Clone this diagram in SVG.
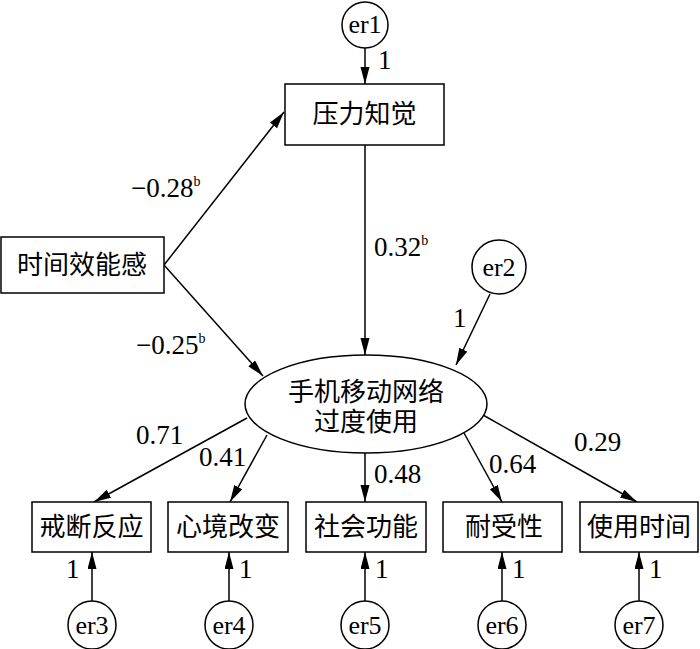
<svg xmlns="http://www.w3.org/2000/svg" width="700" height="649" viewBox="0 0 700 649">
<defs>
<style>
.box{fill:#fff;stroke:#000;stroke-width:1.5}
.ln{stroke:#000;stroke-width:1.5;fill:none;marker-end:url(#ah)}
.cn{font-family:"Noto Sans CJK SC","Noto Sans",sans-serif;font-size:26px;fill:#000;text-anchor:middle}
.nm{font-family:"Liberation Serif",serif;font-size:27px;fill:#000}
.er{font-family:"Liberation Serif",serif;font-size:26px;fill:#000;text-anchor:middle}
.sup{font-size:14px}
</style>
<marker id="ah" markerUnits="userSpaceOnUse" markerWidth="18" markerHeight="10" refX="17" refY="4.5" orient="auto">
<path d="M0,0 L17,4.5 L0,9 z" fill="#000"/>
</marker>
</defs>
<rect width="700" height="649" fill="#fff"/>
<g id="connectors">
<line class="ln" x1="365" y1="48" x2="365" y2="84"/>
<line class="ln" x1="164" y1="265" x2="284" y2="112"/>
<line class="ln" x1="164" y1="265" x2="263" y2="376"/>
<line class="ln" x1="365" y1="145" x2="365" y2="355"/>
<line class="ln" x1="490" y1="294" x2="456" y2="365"/>
<line class="ln" x1="247" y1="418" x2="94" y2="502"/>
<line class="ln" x1="267" y1="435" x2="230" y2="502"/>
<line class="ln" x1="365" y1="453" x2="365" y2="502"/>
<line class="ln" x1="464" y1="433" x2="502" y2="502"/>
<line class="ln" x1="483" y1="415" x2="637" y2="502"/>
<line class="ln" x1="92" y1="601" x2="92" y2="552"/>
<line class="ln" x1="229" y1="601" x2="229" y2="552"/>
<line class="ln" x1="365" y1="601" x2="365" y2="552"/>
<line class="ln" x1="502" y1="601" x2="502" y2="552"/>
<line class="ln" x1="639" y1="601" x2="639" y2="552"/>
</g>
<g id="labels">
<text class="nm" x="378" y="69">1</text>
<text class="nm" x="131" y="197">−0.28<tspan class="sup" dy="-11">b</tspan></text>
<text class="nm" x="136" y="354">−0.25<tspan class="sup" dy="-11">b</tspan></text>
<text class="nm" x="374" y="256">0.32<tspan class="sup" dy="-11">b</tspan></text>
<text class="nm" x="453" y="327">1</text>
<text class="nm" x="136" y="444">0.71</text>
<text class="nm" x="199" y="466">0.41</text>
<text class="nm" x="374" y="483">0.48</text>
<text class="nm" x="489" y="473">0.64</text>
<text class="nm" x="574" y="451">0.29</text>
<text class="nm" x="66" y="578">1</text>
<text class="nm" x="239" y="578">1</text>
<text class="nm" x="375" y="578">1</text>
<text class="nm" x="512" y="578">1</text>
<text class="nm" x="649" y="578">1</text>
</g>
<g id="er1"><circle class="box" cx="365" cy="25" r="23"/><text class="er" x="365" y="33">er1</text></g>
<g id="pressure"><rect class="box" x="285" y="84" width="159" height="61"/><text class="cn" x="364.5" y="123">压力知觉</text></g>
<g id="time_efficacy"><rect class="box" x="1" y="237" width="163" height="56"/><text class="cn" x="82" y="274">时间效能感</text></g>
<g id="er2"><circle class="box" cx="499" cy="267" r="27"/><text class="er" x="499" y="276">er2</text></g>
<g id="mobile_overuse"><ellipse class="box" cx="366" cy="404" rx="121" ry="49"/><text class="cn" x="366" y="401">手机移动网络</text><text class="cn" x="366" y="431">过度使用</text></g>
<g id="withdrawal"><rect class="box" x="32" y="502" width="119" height="50"/><text class="cn" x="91.5" y="536">戒断反应</text></g>
<g id="mood"><rect class="box" x="168" y="502" width="120" height="50"/><text class="cn" x="228" y="536">心境改变</text></g>
<g id="social"><rect class="box" x="306" y="502" width="120" height="50"/><text class="cn" x="366" y="536">社会功能</text></g>
<g id="tolerance"><rect class="box" x="443" y="502" width="119" height="50"/><text class="cn" x="504" y="536">耐受性</text></g>
<g id="usetime"><rect class="box" x="580" y="502" width="118" height="50"/><text class="cn" x="639" y="536">使用时间</text></g>
<g id="er3"><circle class="box" cx="92" cy="625" r="24"/><text class="er" x="92" y="634">er3</text></g>
<g id="er4"><circle class="box" cx="229" cy="625" r="24"/><text class="er" x="229" y="634">er4</text></g>
<g id="er5"><circle class="box" cx="365" cy="625" r="24"/><text class="er" x="365" y="634">er5</text></g>
<g id="er6"><circle class="box" cx="502" cy="625" r="24"/><text class="er" x="502" y="634">er6</text></g>
<g id="er7"><circle class="box" cx="639" cy="625" r="24"/><text class="er" x="639" y="634">er7</text></g>
</svg>
